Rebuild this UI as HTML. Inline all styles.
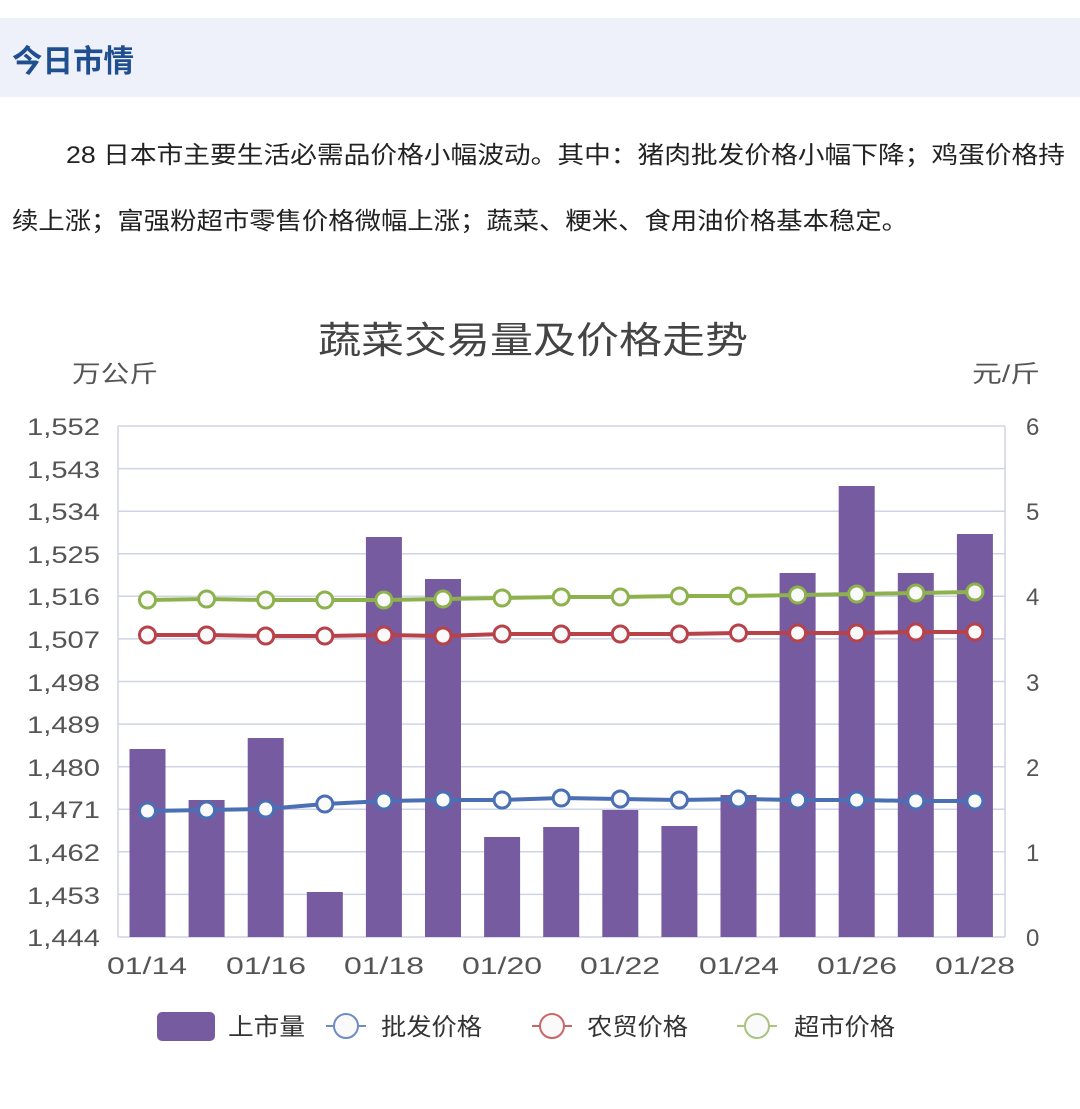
<!DOCTYPE html>
<html><head><meta charset="utf-8"><style>
html,body{margin:0;padding:0;background:#fff;}
svg{display:block;font-family:"Liberation Sans","Noto Sans CJK SC",sans-serif;}
</style></head><body>
<svg width="1080" height="1109" viewBox="0 0 1080 1109" xmlns="http://www.w3.org/2000/svg">
<rect x="0" y="18" width="1080" height="79" fill="#eef1fa"/>
<text x="12" y="72" font-size="31" font-weight="bold" fill="#1f4f8f" textLength="122" lengthAdjust="spacingAndGlyphs">今日市情</text>
<text x="66" y="163" font-size="24" fill="#222" textLength="999" lengthAdjust="spacingAndGlyphs">28 日本市主要生活必需品价格小幅波动。其中：猪肉批发价格小幅下降；鸡蛋价格持</text>
<text x="12" y="229" font-size="24" fill="#222" textLength="896" lengthAdjust="spacingAndGlyphs">续上涨；富强粉超市零售价格微幅上涨；蔬菜、粳米、食用油价格基本稳定。</text>
<text x="318" y="353" font-size="37" fill="#444" textLength="430" lengthAdjust="spacingAndGlyphs">蔬菜交易量及价格走势</text>
<text x="72" y="382" font-size="24" fill="#555" textLength="86" lengthAdjust="spacingAndGlyphs">万公斤</text>
<text x="972" y="382" font-size="24" fill="#555" textLength="68" lengthAdjust="spacingAndGlyphs">元/斤</text>
<g stroke="#cfd4e4" stroke-width="1.5">
<line x1="118" y1="426" x2="1005" y2="426"/><line x1="118" y1="468.6" x2="1005" y2="468.6"/>
<line x1="118" y1="511.2" x2="1005" y2="511.2"/><line x1="118" y1="553.7" x2="1005" y2="553.7"/>
<line x1="118" y1="596.3" x2="1005" y2="596.3"/><line x1="118" y1="638.9" x2="1005" y2="638.9"/>
<line x1="118" y1="681.5" x2="1005" y2="681.5"/><line x1="118" y1="724.1" x2="1005" y2="724.1"/>
<line x1="118" y1="766.7" x2="1005" y2="766.7"/><line x1="118" y1="809.2" x2="1005" y2="809.2"/>
<line x1="118" y1="851.8" x2="1005" y2="851.8"/><line x1="118" y1="894.4" x2="1005" y2="894.4"/>
<line x1="118" y1="937" x2="1005" y2="937"/>
<line x1="118" y1="426" x2="118" y2="937"/><line x1="1005" y1="426" x2="1005" y2="937"/>
</g>
<g font-size="24" fill="#555">
<text x="27" y="435" textLength="73" lengthAdjust="spacingAndGlyphs">1,552</text><text x="27" y="478" textLength="73" lengthAdjust="spacingAndGlyphs">1,543</text><text x="27" y="520" textLength="73" lengthAdjust="spacingAndGlyphs">1,534</text>
<text x="27" y="563" textLength="73" lengthAdjust="spacingAndGlyphs">1,525</text><text x="27" y="605" textLength="73" lengthAdjust="spacingAndGlyphs">1,516</text><text x="27" y="648" textLength="73" lengthAdjust="spacingAndGlyphs">1,507</text>
<text x="27" y="691" textLength="73" lengthAdjust="spacingAndGlyphs">1,498</text><text x="27" y="733" textLength="73" lengthAdjust="spacingAndGlyphs">1,489</text><text x="27" y="776" textLength="73" lengthAdjust="spacingAndGlyphs">1,480</text>
<text x="27" y="818" textLength="73" lengthAdjust="spacingAndGlyphs">1,471</text><text x="27" y="861" textLength="73" lengthAdjust="spacingAndGlyphs">1,462</text><text x="27" y="904" textLength="73" lengthAdjust="spacingAndGlyphs">1,453</text>
<text x="27" y="946" textLength="73" lengthAdjust="spacingAndGlyphs">1,444</text>
</g>
<g font-size="24" fill="#555">
<text x="1026" y="435">6</text><text x="1026" y="520">5</text><text x="1026" y="605">4</text>
<text x="1026" y="691">3</text><text x="1026" y="776">2</text><text x="1026" y="861">1</text>
<text x="1026" y="946">0</text>
</g>
<g font-size="24" fill="#555">
<text x="107" y="974" textLength="80" lengthAdjust="spacingAndGlyphs">01/14</text><text x="226" y="974" textLength="80" lengthAdjust="spacingAndGlyphs">01/16</text><text x="344" y="974" textLength="80" lengthAdjust="spacingAndGlyphs">01/18</text>
<text x="462" y="974" textLength="80" lengthAdjust="spacingAndGlyphs">01/20</text><text x="580" y="974" textLength="80" lengthAdjust="spacingAndGlyphs">01/22</text><text x="699" y="974" textLength="80" lengthAdjust="spacingAndGlyphs">01/24</text>
<text x="817" y="974" textLength="80" lengthAdjust="spacingAndGlyphs">01/26</text><text x="935" y="974" textLength="80" lengthAdjust="spacingAndGlyphs">01/28</text>
</g>
<g fill="#765ba0">
<rect x="129.5" y="749" width="36" height="188"/><rect x="188.6" y="800" width="36" height="137"/>
<rect x="247.7" y="738" width="36" height="199"/><rect x="306.8" y="892" width="36" height="45"/>
<rect x="365.9" y="537" width="36" height="400"/><rect x="425" y="579" width="36" height="358"/>
<rect x="484.1" y="837" width="36" height="100"/><rect x="543.2" y="827" width="36" height="110"/>
<rect x="602.3" y="810" width="36" height="127"/><rect x="661.4" y="826" width="36" height="111"/>
<rect x="720.5" y="795" width="36" height="142"/><rect x="779.6" y="573" width="36" height="364"/>
<rect x="838.7" y="486" width="36" height="451"/><rect x="897.8" y="573" width="36" height="364"/>
<rect x="956.9" y="534" width="36" height="403"/>
</g>
<g fill="none" stroke-width="4">
<polyline stroke="#4a6fb5" points="147.5,811 206.6,810 265.7,809 324.8,804 383.9,801 443,800 502.1,800 561.2,798 620.3,799 679.4,800 738.5,799 797.6,800 856.7,800 915.8,801 974.9,801"/>
<polyline stroke="#b8424a" points="147.5,635 206.6,635 265.7,636 324.8,636 383.9,635 443,636 502.1,634 561.2,634 620.3,634 679.4,634 738.5,633 797.6,633 856.7,633 915.8,632 974.9,632"/>
<polyline stroke="#8db24d" points="147.5,600 206.6,599 265.7,600 324.8,600 383.9,600 443,599 502.1,598 561.2,597 620.3,597 679.4,596 738.5,596 797.6,595 856.7,594 915.8,593 974.9,592"/>
</g>
<g fill="#fafafa" stroke-width="3">
<g stroke="#4a6fb5">
<circle cx="147.5" cy="811" r="8"/><circle cx="206.6" cy="810" r="8"/><circle cx="265.7" cy="809" r="8"/><circle cx="324.8" cy="804" r="8"/><circle cx="383.9" cy="801" r="8"/><circle cx="443" cy="800" r="8"/><circle cx="502.1" cy="800" r="8"/><circle cx="561.2" cy="798" r="8"/><circle cx="620.3" cy="799" r="8"/><circle cx="679.4" cy="800" r="8"/><circle cx="738.5" cy="799" r="8"/><circle cx="797.6" cy="800" r="8"/><circle cx="856.7" cy="800" r="8"/><circle cx="915.8" cy="801" r="8"/><circle cx="974.9" cy="801" r="8"/>
</g>
<g stroke="#b8424a">
<circle cx="147.5" cy="635" r="8"/><circle cx="206.6" cy="635" r="8"/><circle cx="265.7" cy="636" r="8"/><circle cx="324.8" cy="636" r="8"/><circle cx="383.9" cy="635" r="8"/><circle cx="443" cy="636" r="8"/><circle cx="502.1" cy="634" r="8"/><circle cx="561.2" cy="634" r="8"/><circle cx="620.3" cy="634" r="8"/><circle cx="679.4" cy="634" r="8"/><circle cx="738.5" cy="633" r="8"/><circle cx="797.6" cy="633" r="8"/><circle cx="856.7" cy="633" r="8"/><circle cx="915.8" cy="632" r="8"/><circle cx="974.9" cy="632" r="8"/>
</g>
<g stroke="#8db24d">
<circle cx="147.5" cy="600" r="8"/><circle cx="206.6" cy="599" r="8"/><circle cx="265.7" cy="600" r="8"/><circle cx="324.8" cy="600" r="8"/><circle cx="383.9" cy="600" r="8"/><circle cx="443" cy="599" r="8"/><circle cx="502.1" cy="598" r="8"/><circle cx="561.2" cy="597" r="8"/><circle cx="620.3" cy="597" r="8"/><circle cx="679.4" cy="596" r="8"/><circle cx="738.5" cy="596" r="8"/><circle cx="797.6" cy="595" r="8"/><circle cx="856.7" cy="594" r="8"/><circle cx="915.8" cy="593" r="8"/><circle cx="974.9" cy="592" r="8"/>
</g>
</g>
<rect x="157" y="1012" width="58" height="29" rx="5" fill="#765ba0"/>
<text x="228" y="1035" font-size="24" fill="#333" textLength="77" lengthAdjust="spacingAndGlyphs">上市量</text>
<line x1="326" y1="1026" x2="366" y2="1026" stroke="#6f8cc4" stroke-width="2"/>
<circle cx="346" cy="1026" r="12" fill="#fafafa" stroke="#6f8cc4" stroke-width="2"/>
<text x="381" y="1035" font-size="24" fill="#333" textLength="101" lengthAdjust="spacingAndGlyphs">批发价格</text>
<line x1="532" y1="1026" x2="572" y2="1026" stroke="#c66" stroke-width="2"/>
<circle cx="552" cy="1026" r="12" fill="#fafafa" stroke="#c66" stroke-width="2"/>
<text x="587" y="1035" font-size="24" fill="#333" textLength="101" lengthAdjust="spacingAndGlyphs">农贸价格</text>
<line x1="737" y1="1026" x2="777" y2="1026" stroke="#a8c47e" stroke-width="2"/>
<circle cx="757" cy="1026" r="12" fill="#fafafa" stroke="#a8c47e" stroke-width="2"/>
<text x="794" y="1035" font-size="24" fill="#333" textLength="101" lengthAdjust="spacingAndGlyphs">超市价格</text>
</svg>
</body></html>
